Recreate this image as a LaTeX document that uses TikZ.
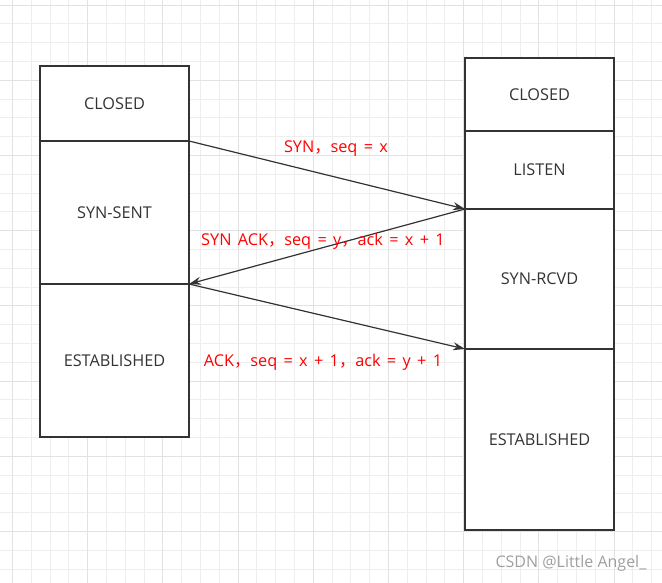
\documentclass[tikz,border=0pt]{standalone}
\usepackage{fontspec}
\setmainfont{Open Sans}
\newfontfamily\lblfont{Open Sans}[WordSpace=1.5]
\newfontfamily\cjk{Noto Sans CJK SC}
\newcommand{\fwc}{{\cjk ，}}
\usetikzlibrary{arrows.meta}
\definecolor{gridminor}{RGB}{238,238,238}
\definecolor{gridmajor}{RGB}{226,226,226}
\definecolor{boxline}{RGB}{51,51,51}
\definecolor{boxtext}{RGB}{51,51,51}
\definecolor{lbl}{RGB}{255,0,0}
\tikzset{
  cell/.style={draw=boxline, line width=1.1pt, fill=white, inner sep=0pt, outer sep=0pt,
    minimum width=149*0.75pt, text=boxtext, font=\fontsize{12.2pt}{14pt}\selectfont},
  msg/.style={draw=boxline, line width=0.9pt, -{Stealth[length=9pt,width=6pt]}},
  msglabel/.style={text=lbl, font=\lblfont\fontsize{12.2pt}{14pt}\selectfont, inner sep=0pt},
  wm/.style={text=gray!75, font=\fontsize{12pt}{14pt}\selectfont, inner sep=0pt}
}
\begin{document}
\begin{tikzpicture}[x=0.75pt,y=-0.75pt]
\useasboundingbox (0,0) rectangle (662,583);
\fill[white] (0,0) rectangle (662,583);
% grid
\foreach \i in {0,...,35} {
  \pgfmathsetmacro\gx{12.5+18.8*\i}
  \draw[gridminor, line width=0.75pt] (\gx,0) -- (\gx,583);
}
\foreach \i in {0,...,31} {
  \pgfmathsetmacro\gy{5+18.8*\i}
  \draw[gridminor, line width=0.75pt] (0,\gy) -- (662,\gy);
}
\foreach \i in {0,...,8} {
  \pgfmathsetmacro\gx{12.5+75.2*\i}
  \draw[gridmajor, line width=0.75pt] (\gx,0) -- (\gx,583);
}
\foreach \i in {0,...,7} {
  \pgfmathsetmacro\gy{5+75.2*\i}
  \draw[gridmajor, line width=0.75pt] (0,\gy) -- (662,\gy);
}
% left column
\node[cell, minimum height=75*0.75pt]  (closedL) at (114.5,103.5) {CLOSED};
\node[cell, minimum height=143*0.75pt] (synsent) at (114.5,212.5) {SYN-SENT};
\node[cell, minimum height=153*0.75pt] (estL)    at (114.5,360.5) {ESTABLISHED};
% right column
\node[cell, minimum height=73*0.75pt]  (closedR) at (539.5,94.5)  {CLOSED};
\node[cell, minimum height=78*0.75pt]  (listen)  at (539.5,170)   {LISTEN};
\node[cell, minimum height=140*0.75pt] (synrcvd) at (539.5,279)   {SYN-RCVD};
\node[cell, minimum height=181*0.75pt] (estR)    at (539.5,439.5) {ESTABLISHED};
% messages
\draw[msg] (closedL.south east) -- (listen.south west);
\draw[msg] (synrcvd.north west) -- (synsent.south east);
\draw[msg] (estL.north east) -- (estR.north west);
% labels
\node[msglabel] (l1) at (336,149) {SYN\fwc seq = x};
\node[msglabel] (l2) at (323,241) {SYN ACK\fwc seq = y\fwc ack = x + 1};
\node[msglabel] (l3) at (323,362) {ACK\fwc seq = x + 1\fwc ack = y + 1};
% watermark
\node[wm] (wmark) at (571,563) {CSDN @Little Angel\_};
\end{tikzpicture}
\end{document}
